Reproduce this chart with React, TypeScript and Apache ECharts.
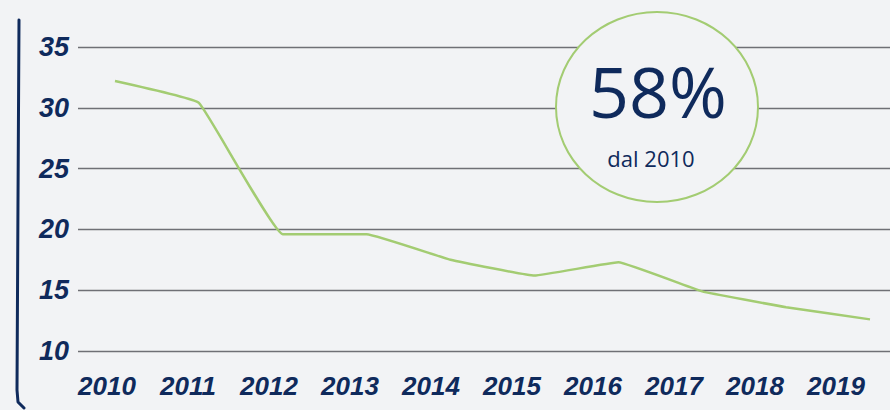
import React, { useEffect, useRef } from "react";
import * as echarts from "echarts";

const years = ["2010", "2011", "2012", "2013", "2014", "2015", "2016", "2017", "2018", "2019"];
const values = [32.2, 30.4, 19.6, 19.6, 17.5, 16.2, 17.3, 14.9, 13.6, 12.6];
const yMin = 10;
const yMax = 35;
const yStep = 5;
const badgeValue = "58%";
const badgeSub = "dal 2010";

const NAVY = "#0f2a5c";
const GREEN = "#a3cc72";
const BG = "#f2f3f5";
const HAND = "'Liberation Sans', Arial, sans-serif";

export default function App() {
  const ref = useRef<HTMLDivElement>(null);
  useEffect(() => {
    document.body.style.margin = "0";
    const chart = echarts.init(ref.current!, null, { renderer: "svg" });
    const gridTop = 47;
    const gridBottom = 59;
    chart.setOption({
      animation: false,
      backgroundColor: BG,
      grid: [
        { left: 78, right: 0, top: gridTop, bottom: gridBottom },
        { left: 115, right: 20, top: gridTop, bottom: gridBottom },
        { left: 107, right: 54, top: gridTop, bottom: gridBottom },
      ],
      xAxis: [
        { gridIndex: 0, type: "category", data: years, show: false },
        { gridIndex: 1, type: "category", data: years, boundaryGap: false, show: false },
        {
          gridIndex: 2,
          type: "category",
          data: years,
          boundaryGap: false,
          axisLine: { show: false },
          axisTick: { show: false },
          splitLine: { show: false },
          axisLabel: {
            interval: 0,
            margin: 22,
            color: NAVY,
            fontFamily: HAND,
            fontWeight: "bold",
            fontStyle: "italic",
            fontSize: 26,
          },
        },
      ],
      yAxis: [
        {
          gridIndex: 0,
          type: "value",
          min: yMin,
          max: yMax,
          interval: yStep,
          axisLine: { show: false },
          axisTick: { show: false },
          splitLine: { show: true, lineStyle: { color: "#6f7075", width: 1.4 } },
          axisLabel: {
            margin: 9,
            color: NAVY,
            fontFamily: HAND,
            fontWeight: "bold",
            fontStyle: "italic",
            fontSize: 27,
          },
        },
        { gridIndex: 1, type: "value", min: yMin, max: yMax, interval: yStep, show: false, splitLine: { show: false } },
        { gridIndex: 2, type: "value", min: yMin, max: yMax, interval: yStep, show: false, splitLine: { show: false } },
      ],
      series: [
        {
          type: "line",
          xAxisIndex: 1,
          yAxisIndex: 1,
          data: values,
          smooth: 0.08,
          showSymbol: false,
          symbol: "none",
          lineStyle: { color: GREEN, width: 2.5 },
          z: 3,
        },
      ],
      graphic: [
        {
          type: "ellipse",
          shape: { cx: 657, cy: 107, rx: 101, ry: 95 },
          style: { fill: BG, stroke: GREEN, lineWidth: 2 },
          z: 10,
        },
        {
          type: "text",
          x: 658,
          y: 91,
          style: {
            text: badgeValue,
            fill: NAVY,
            font: "400 70px 'Open Sans', sans-serif",
            align: "center",
            verticalAlign: "middle",
          },
          z: 11,
        },
        {
          type: "text",
          x: 651,
          y: 158,
          style: {
            text: badgeSub,
            fill: NAVY,
            font: "400 22px 'Open Sans', sans-serif",
            align: "center",
            verticalAlign: "middle",
          },
          z: 11,
        },
        {
          type: "polyline",
          shape: { points: [[19, 20], [18, 200], [17, 390], [18, 402], [24, 408]] },
          style: { stroke: NAVY, lineWidth: 3, fill: "none", lineCap: "round", lineJoin: "round" },
          z: 10,
        },
      ],
    });
    return () => chart.dispose();
  }, []);
  return <div ref={ref} style={{ position: "absolute", left: 0, top: 0, width: 890, height: 410 }} />;
}
